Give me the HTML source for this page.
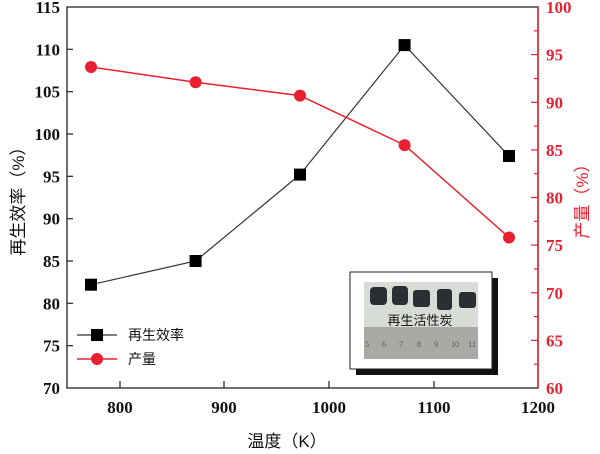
<!DOCTYPE html><html><head><meta charset="utf-8"><style>body{margin:0;background:#fff}svg{display:block}</style></head><body>
<svg width="600" height="454" xmlns="http://www.w3.org/2000/svg">
<g font-family="Liberation Serif,serif" font-weight="bold" font-size="17">
<!-- axes -->
<rect x="67" y="7" width="471" height="381" fill="none" stroke="#222" stroke-width="1.3"/>
<line x1="538" y1="7" x2="538" y2="388" stroke="#e8202f" stroke-width="1.5"/>
<!-- x ticks -->
<g stroke="#222" stroke-width="1.2">
<line x1="120" y1="388" x2="120" y2="381"/><line x1="224" y1="388" x2="224" y2="381"/><line x1="329" y1="388" x2="329" y2="381"/><line x1="434" y1="388" x2="434" y2="381"/>
<line x1="67" y1="345.7" x2="73" y2="345.7"/><line x1="67" y1="303.3" x2="73" y2="303.3"/><line x1="67" y1="261" x2="73" y2="261"/><line x1="67" y1="218.7" x2="73" y2="218.7"/><line x1="67" y1="176.3" x2="73" y2="176.3"/><line x1="67" y1="134" x2="73" y2="134"/><line x1="67" y1="91.7" x2="73" y2="91.7"/><line x1="67" y1="49.3" x2="73" y2="49.3"/>
</g>
<g stroke="#e8202f" stroke-width="1.2">
<line x1="538" y1="340.4" x2="531" y2="340.4"/><line x1="538" y1="292.8" x2="531" y2="292.8"/><line x1="538" y1="245.1" x2="531" y2="245.1"/><line x1="538" y1="197.5" x2="531" y2="197.5"/><line x1="538" y1="149.9" x2="531" y2="149.9"/><line x1="538" y1="102.3" x2="531" y2="102.3"/><line x1="538" y1="54.6" x2="531" y2="54.6"/>
<line x1="538" y1="364.2" x2="534" y2="364.2"/><line x1="538" y1="316.6" x2="534" y2="316.6"/><line x1="538" y1="269" x2="534" y2="269"/><line x1="538" y1="221.3" x2="534" y2="221.3"/><line x1="538" y1="173.7" x2="534" y2="173.7"/><line x1="538" y1="126.1" x2="534" y2="126.1"/><line x1="538" y1="78.5" x2="534" y2="78.5"/><line x1="538" y1="30.8" x2="534" y2="30.8"/>
</g>
<!-- left labels -->
<g text-anchor="end" fill="#111">
<text x="60" y="394">70</text><text x="60" y="351.7">75</text><text x="60" y="309.3">80</text><text x="60" y="267">85</text><text x="60" y="224.7">90</text><text x="60" y="182.3">95</text><text x="60" y="140">100</text><text x="60" y="97.7">105</text><text x="60" y="55.3">110</text><text x="60" y="13">115</text>
</g>
<g fill="#e8202f">
<text x="546" y="394">60</text><text x="546" y="346.4">65</text><text x="546" y="298.8">70</text><text x="546" y="251.1">75</text><text x="546" y="203.5">80</text><text x="546" y="155.9">85</text><text x="546" y="108.3">90</text><text x="546" y="60.6">95</text><text x="546" y="13">100</text>
</g>
<g text-anchor="middle" fill="#111">
<text x="120" y="413">800</text><text x="224" y="413">900</text><text x="329" y="413">1000</text><text x="434" y="413">1100</text><text x="538" y="413">1200</text>
</g>
</g>
<g font-family="Liberation Sans,'Noto Sans CJK SC',sans-serif" font-size="17">
<text x="287" y="447" text-anchor="middle" fill="#111">温度（K）</text>
<text transform="translate(24,197) rotate(-90)" text-anchor="middle" fill="#111">再生效率（%）</text>
<text transform="translate(588,197) rotate(-90)" text-anchor="middle" fill="#e8202f">产量（%）</text>
</g>
<!-- series -->
<polyline points="91,284.7 195.6,261 300,174.6 404.6,45.1 509,156" fill="none" stroke="#333" stroke-width="1.2"/>
<g fill="#000"><rect x="85" y="278.7" width="12" height="12"/><rect x="189.6" y="255" width="12" height="12"/><rect x="294" y="168.6" width="12" height="12"/><rect x="398.6" y="39.1" width="12" height="12"/><rect x="503" y="150" width="12" height="12"/></g>
<polyline points="91,67 195.6,82.2 300,95.6 404.6,145.1 509,237.5" fill="none" stroke="#e8202f" stroke-width="1.5"/>
<g fill="#e8202f"><circle cx="91" cy="67" r="6"/><circle cx="195.6" cy="82.2" r="6"/><circle cx="300" cy="95.6" r="6"/><circle cx="404.6" cy="145.1" r="6"/><circle cx="509" cy="237.5" r="6"/></g>
<!-- legend -->
<line x1="77" y1="335" x2="117" y2="335" stroke="#333" stroke-width="1.2"/><rect x="91" y="329" width="12" height="12"/>
<line x1="77" y1="359" x2="117" y2="359" stroke="#e8202f" stroke-width="1.5"/><circle cx="97" cy="359" r="6" fill="#e8202f"/>
<g font-family="Liberation Sans,'Noto Sans CJK SC',sans-serif" font-size="14" fill="#111">
<text x="128" y="340">再生效率</text><text x="128" y="364">产量</text></g>
<!-- inset -->
<rect x="356" y="278" width="142" height="97" fill="#111"/>
<rect x="350" y="272" width="142" height="97" fill="#fff" stroke="#222" stroke-width="1"/>
<rect x="364" y="282" width="114" height="77" fill="#d8dcd6"/>
<rect x="364" y="327" width="114" height="32" fill="#a9a9a6"/>
<g fill="#2b2f33"><rect x="370" y="287" width="17" height="18" rx="4"/><rect x="392" y="286" width="16" height="19" rx="4"/><rect x="413" y="290" width="17" height="17" rx="3"/><rect x="437" y="289" width="15" height="21" rx="3"/><rect x="459" y="292" width="17" height="16" rx="3"/></g>
<text x="420" y="325" text-anchor="middle" font-family="Liberation Sans,'Noto Sans CJK SC',sans-serif" font-size="13" fill="#111">再生活性炭</text>
<g font-family="Liberation Serif,serif" font-size="8" fill="#555" text-anchor="middle"><text x="367" y="347">5</text><text x="384" y="347">6</text><text x="401" y="347">7</text><text x="419" y="347">8</text><text x="436" y="347">9</text><text x="455" y="347">10</text><text x="472" y="347">11</text></g>
</svg></body></html>
